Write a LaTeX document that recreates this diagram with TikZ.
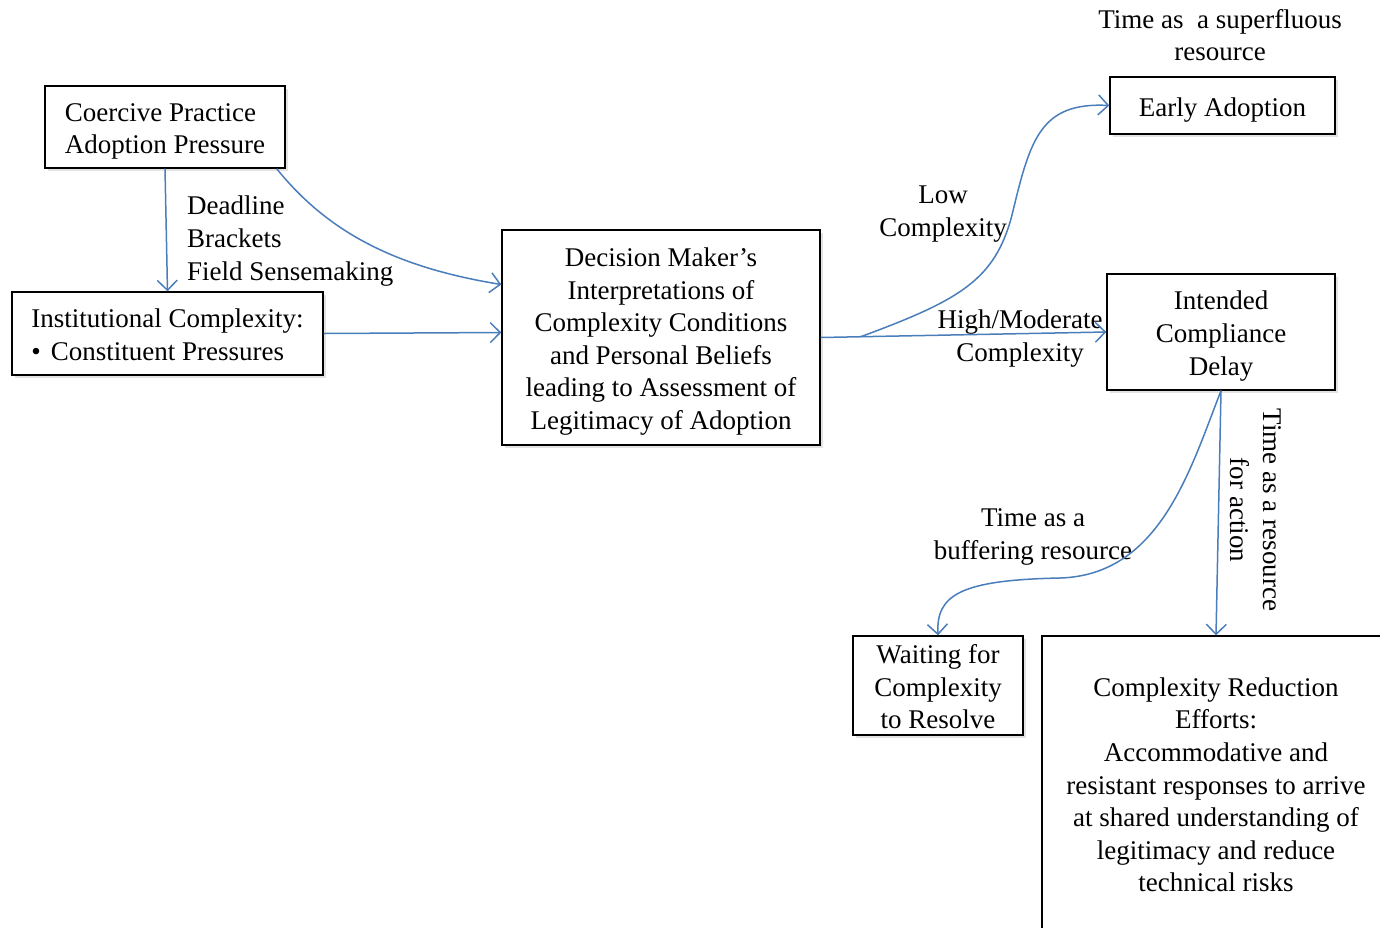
\documentclass[tikz,border=0pt]{standalone}
\usepackage{fontspec}
\setmainfont{Liberation Serif}
\usetikzlibrary{arrows.meta,shadows}
\definecolor{linkblue}{RGB}{74,126,187}
\newcommand\topstrut{\rule{0pt}{27pt}}
\begin{document}
\begin{tikzpicture}[x=1pt,y=-1pt,
    font=\fontsize{27}{32.6}\selectfont,
    box/.style={draw,line width=1.4pt,fill=white,inner sep=0pt,
      execute at end node={\rule[-6pt]{0pt}{6pt}},
      drop shadow={shadow xshift=2.5pt,shadow yshift=-3pt,opacity=0.22}},
    link/.style={draw=linkblue,line width=1.5pt,
      -{Straight Barb[length=10pt,width=20pt,line width=1.5pt]}},
    lbl/.style={align=center,inner sep=0pt}]
  \clip (0,0) rectangle (1380,927);
  % Sources of pressure
  \node[box,align=left,minimum width=240pt,minimum height=82pt] (coercive) at (165,127)
    {\topstrut Coercive Practice\\Adoption Pressure};
  \node[box,align=left,minimum width=311pt,minimum height=83pt] (institutional) at (167.5,333.5)
    {\topstrut Institutional Complexity:\\\textbullet\hspace{10pt}Constituent Pressures};
  \node[lbl,align=left,anchor=west] (deadline) at (187,241)
    {Deadline\\Brackets\\Field Sensemaking};
  % Decision maker
  \node[box,align=center,minimum width=318pt,minimum height=215pt] (decision) at (661,337.5)
    {\topstrut Decision Maker's\\Interpretations of\\Complexity Conditions\\and Personal Beliefs\\leading to Assessment of\\Legitimacy of Adoption};
  % Outcomes
  \node[box,minimum width=225pt,minimum height=57pt] (early) at (1222.5,105.5) {\topstrut Early Adoption};
  \node[box,align=center,minimum width=228pt,minimum height=116pt] (intended) at (1221,332)
    {\topstrut Intended\\Compliance\\Delay};
  \node[box,align=center,minimum width=170pt,minimum height=99pt] (waiting) at (938,685.5)
    {\topstrut Waiting for\\Complexity\\to Resolve};
  \node[box,align=center,minimum width=348pt,minimum height=295pt] (reduction) at (1216,783.5)
    {\topstrut Complexity Reduction\\Efforts:\\Accommodative and\\resistant responses to arrive\\at shared understanding of\\legitimacy and reduce\\technical risks};
  % Labels
  \node[lbl] (superfluous) at (1220,35) {Time as\ \ a superfluous\\resource};
  \node[lbl] (low) at (943,214) {Low\\Complexity};
  \node[lbl] (high) at (1020,338.5) {High/Moderate\\Complexity};
  \node[lbl] (buffering) at (1033,537) {Time as a\\buffering resource};
  \node[lbl,rotate=-90] (action) at (1256,510) {Time as a resource\\for action};
  % Arrows
  \draw[link] (coercive.south) -- (institutional.north);
  \draw[link] ([xshift=-9pt]coercive.south east)
    .. controls (330,235) and (400,268) .. ([yshift=53pt]decision.west);
  \draw[link] (institutional.east) -- ([yshift=5pt]decision.west);
  \draw[link] (decision.east) -- coordinate[pos=0.14] (branch) (intended.west);
  \draw[link] (branch) .. controls (960,300) and (995,280) .. (1012,215)
    .. controls (1030,140) and (1040,102) .. (early.west);
  \draw[link] (intended.south) .. controls (1190,470) and (1160,575) .. (1060,578)
    .. controls (960,580) and (936,595) .. (waiting.north);
  \draw[link] (intended.south) -- (reduction.north);
\end{tikzpicture}
\end{document}
